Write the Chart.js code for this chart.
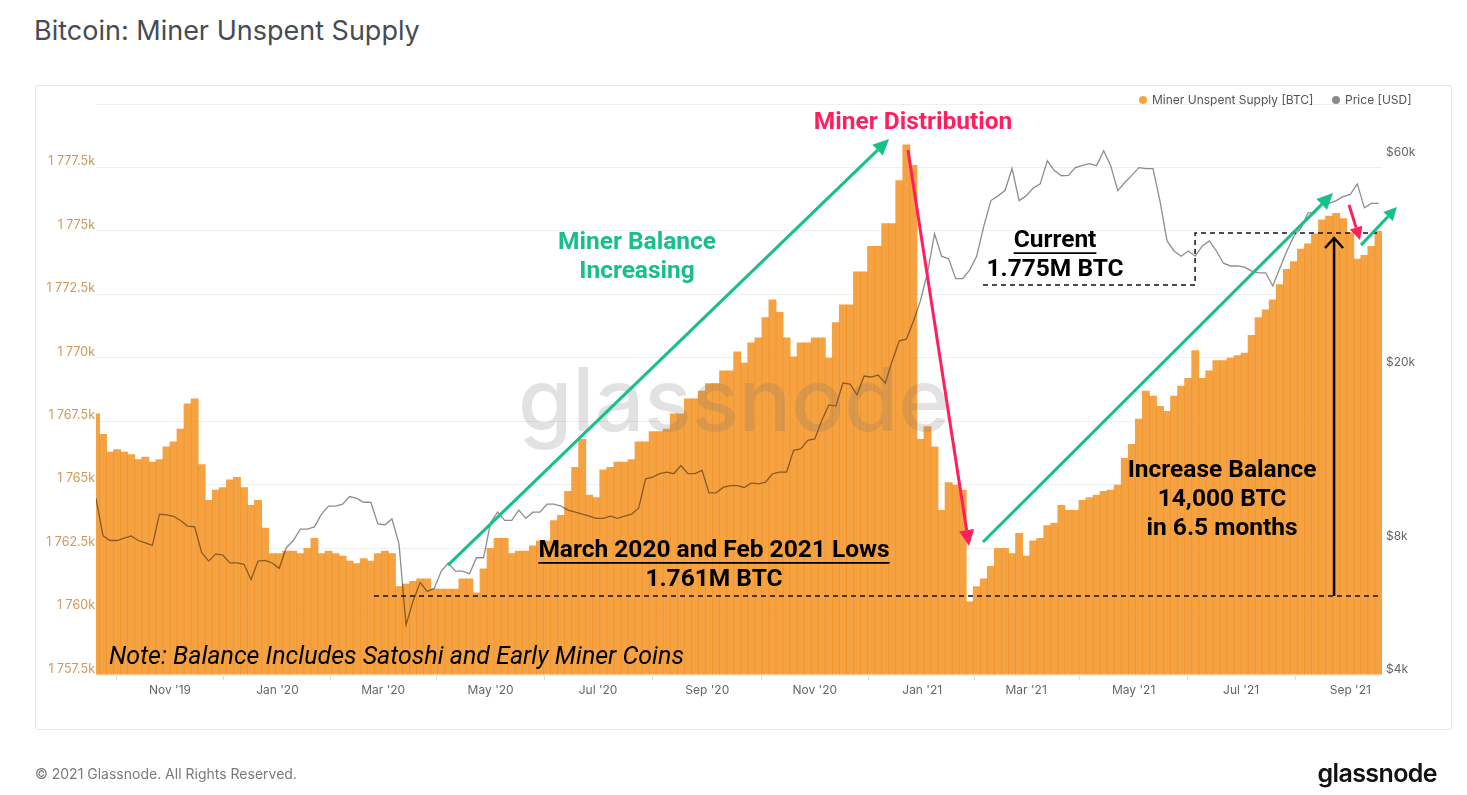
<!DOCTYPE html>
<html>
<head>
<meta charset="utf-8">
<script src="https://cdn.jsdelivr.net/npm/chart.js@4.4.1/dist/chart.umd.min.js"></script>
<style>
html,body{margin:0;padding:0;background:#fff;width:1467px;height:795px;overflow:hidden;font-family:Inter,"Noto Sans",sans-serif;}
#wrap{position:relative;width:1467px;height:795px;}
#c{position:absolute;left:0;top:0;}
.card{position:absolute;left:35px;top:85px;width:1417px;height:645px;border:1px solid #e7e7e7;border-radius:3px;box-sizing:border-box;}
.title{position:absolute;left:34px;top:14px;font-size:27px;line-height:34px;color:#464b55;white-space:nowrap;}
.legend{position:absolute;top:93px;left:1138px;font-size:12px;line-height:14px;color:#555;white-space:nowrap;}
.legend span.dot{position:absolute;top:3px;width:8px;height:8px;border-radius:50%;}
.legend span.t{position:absolute;top:0;}
.foot{position:absolute;left:35px;top:766px;font-size:14px;line-height:16px;color:#7a7a7a;white-space:nowrap;}
.logo{position:absolute;right:30px;top:757px;font-size:25px;line-height:32px;font-weight:600;color:#111;letter-spacing:-0.6px;}
</style>
</head>
<body>
<div id="wrap">
  <div class="card"></div>
  <div class="title">Bitcoin: Miner Unspent Supply</div>
  <canvas id="c" width="1467" height="795"></canvas>
  <div class="legend">
    <span class="dot" style="left:1px;background:#f6a340"></span><span class="t" style="left:14px">Miner Unspent Supply [BTC]</span>
    <span class="dot" style="left:194px;background:#8a8a8a"></span><span class="t" style="left:207px">Price [USD]</span>
  </div>
  <div class="foot">© 2021 Glassnode. All Rights Reserved.</div>
  <div class="logo">glassnode</div>
</div>
<script>
// ---- data (one value every 4 days, starting 2019-09-20) ----
const startDate = '2019-09-20';
const stepDays = 4;
// Miner unspent supply, thousands of BTC
const supply = [
1767.8,1767.0,1766.3,1766.4,1766.3,1766.2,1766.0,1766.1,1765.9,1766.0,
1766.5,1766.7,1767.2,1768.2,1768.4,1765.8,1764.4,1764.8,1764.9,1765.2,
1765.3,1764.9,1764.2,1764.4,1763.3,1762.3,1762.3,1762.4,1762.4,1762.3,
1762.5,1762.9,1762.3,1762.4,1762.3,1762.2,1762.0,1761.9,1762.1,1762.0,
1762.3,1762.4,1762.3,1761.0,1761.1,1761.2,1761.3,1761.3,1760.9,1760.9,
1760.9,1760.9,1761.3,1761.3,1760.75,1761.7,1762.5,1762.9,1762.9,1762.3,
1762.4,1762.4,1762.6,1762.8,1762.8,1763.6,1763.8,1764.75,1765.7,1766.8,
1764.6,1764.5,1765.6,1765.7,1765.9,1765.9,1766.0,1766.7,1766.7,1767.1,
1767.1,1767.2,1767.8,1767.8,1768.4,1768.4,1768.7,1769.0,1769.0,1769.5,
1769.5,1770.25,1769.8,1770.6,1770.8,1771.6,1772.3,1771.8,1770.8,1770.05,
1770.6,1770.6,1770.8,1770.8,1770.0,1771.4,1772.1,1772.1,1773.4,1773.4,
1774.4,1774.4,1775.3,1775.3,1777.0,1778.4,1777.6,1766.8,1767.3,1766.5,
1764.0,1765.1,1765.0,1764.8,1760.4,1761.0,1761.3,1761.8,1762.5,1762.5,
1762.3,1763.1,1762.2,1762.8,1762.9,1763.4,1763.5,1764.2,1764.0,1764.0,
1764.4,1764.5,1764.6,1764.75,1764.8,1765.0,1766.05,1766.6,1767.6,1768.7,
1768.5,1768.1,1767.9,1768.5,1768.9,1769.2,1770.3,1769.2,1769.5,1769.9,
1769.9,1770.0,1770.1,1770.2,1770.9,1771.6,1771.9,1772.3,1772.9,1773.5,
1773.8,1774.3,1774.5,1774.9,1775.45,1775.6,1775.7,1775.5,1774.95,1773.9,
1774.05,1774.4,1775.0
];
// BTC price, thousands of USD
const price = [
10.1,8.3,8.1,8.1,8.2,8.3,8.1,8.0,7.9,9.3,
9.27,9.2,9.0,8.74,8.7,7.6,7.27,7.55,7.5,7.2,
7.2,7.15,6.6,7.27,7.3,7.2,7.0,7.8,8.1,8.6,
8.6,8.7,9.3,9.7,9.7,9.8,10.2,10.1,9.9,9.9,
8.84,8.8,9.07,7.96,5.2,5.9,6.5,6.2,6.3,6.9,
7.2,6.9,6.9,6.8,7.4,7.4,8.9,9.4,9.0,9.0,
9.5,9.1,9.4,9.4,9.8,9.8,9.7,9.5,9.4,9.3,
9.2,9.1,9.1,9.2,9.1,9.2,9.3,9.6,11.2,11.3,
11.5,11.6,11.5,12.0,11.5,11.5,11.7,10.4,10.4,10.7,
10.8,10.8,10.7,10.96,10.9,11.0,11.5,11.6,11.6,13.0,
13.1,13.7,13.8,15.2,16.5,16.4,18.5,18.4,17.4,19.2,
19.1,19.3,18.5,20.8,23.1,23.3,25.6,28.5,33.0,40.5,
36.0,35.5,32.0,32.0,33.5,36.1,42.2,48.2,49.4,50.8,
57.0,48.2,49.4,51.5,52.6,59.4,56.4,54.9,55.0,57.3,
58.0,58.5,57.9,62.6,57.9,50.8,53.0,55.0,57.3,57.0,
57.0,48.0,39.0,37.0,36.0,37.0,36.0,38.0,39.0,37.0,
34.7,34.2,34.2,34.0,33.3,33.0,33.0,30.8,33.8,37.0,
40.0,41.7,45.2,45.2,47.5,47.5,48.2,49.2,49.8,52.6,
46.4,47.5,47.5
];
// axis ticks
const xTickDates = ['2019-11-01','2020-01-01','2020-03-01','2020-05-01','2020-07-01','2020-09-01','2020-11-01','2021-01-01','2021-03-01','2021-05-01','2021-07-01','2021-09-01'];
const xTickLabels = ["Nov '19","Jan '20","Mar '20","May '20","Jul '20","Sep '20","Nov '20","Jan '21","Mar '21","May '21","Jul '21","Sep '21"];
const supplyTicks = [1757.5,1760,1762.5,1765,1767.5,1770,1772.5,1775,1777.5,1780];
const priceTicks = [4000,8000,20000,60000];
const supplyMin = 1757.5, supplyMax = 1780;
const priceMin = 4000, priceMax = 80000;
const dayMax = 730;

// annotation definitions in data units: [day, kBTC]
const lowLevel = 1760.61;      // 1.761M
const currentLevel = 1774.92;  // 1.775M
const greenArrows = [[199.8,1761.83,450.2,1778.62],[503.5,1762.74,702.2,1776.49],[718.1,1774.44,738.5,1775.94]];
const pinkArrows = [[460.9,1778.19,495.6,1762.58],[711.3,1776.02,717.5,1774.64]];

function dayOf(s){const a=Date.UTC(...startDate.split('-').map((v,i)=>i===1?v-1:+v));const b=Date.UTC(...s.split('-').map((v,i)=>i===1?v-1:+v));return Math.round((b-a)/86400000);}
const xTickDays = xTickDates.map(dayOf);

function fmtK(v){
  let s = (Math.round(v*10)/10).toString();
  const [ip,fp] = s.split('.');
  const withSp = ip.replace(/\B(?=(\d{3})+(?!\d))/g,' ');
  return withSp + (fp?'.'+fp:'') + 'k';
}

const GREEN = '#17c08b', PINK = '#ff1f5e';

function arrow(ctx,x1,y1,x2,y2,color,w,hl,hw){
  const a=Math.atan2(y2-y1,x2-x1);
  const bx=x2-hl*Math.cos(a), by=y2-hl*Math.sin(a);
  ctx.strokeStyle=color; ctx.lineWidth=w; ctx.lineCap='butt';
  ctx.beginPath(); ctx.moveTo(x1,y1); ctx.lineTo(bx,by); ctx.stroke();
  ctx.fillStyle=color; ctx.beginPath(); ctx.moveTo(x2,y2);
  ctx.lineTo(bx+hw/2*Math.sin(a), by-hw/2*Math.cos(a));
  ctx.lineTo(bx-hw/2*Math.sin(a), by+hw/2*Math.cos(a));
  ctx.closePath(); ctx.fill();
}

const annotPlugin = {
  id:'annot',
  beforeDatasetDraw(chart,args){ if(args.meta.type==='line'){chart.ctx.save();chart.ctx.globalCompositeOperation='multiply';} },
  afterDatasetDraw(chart,args){ if(args.meta.type==='line'){chart.ctx.restore();} },
  afterDatasetsDraw(chart){
    const ctx=chart.ctx, xs=chart.scales.x, ys=chart.scales.y, ca=chart.chartArea;
    const px=d=>xs.getPixelForValue(d), py=v=>ys.getPixelForValue(v);
    ctx.save();
    // watermark
    ctx.font='500 100px Inter';
    const wm='glassnode'; const mw=ctx.measureText(wm).width; const fs=100*432/mw;
    ctx.font='500 '+fs.toFixed(1)+'px Inter';
    ctx.fillStyle='rgba(110,110,110,0.2)'; ctx.textAlign='center'; ctx.textBaseline='alphabetic';
    ctx.fillText(wm,(ca.left+ca.right)/2-5,(ca.top+ca.bottom)/2+41);
    // dashed lines
    ctx.strokeStyle='#111'; ctx.lineWidth=1.5; ctx.setLineDash([5,4]);
    ctx.beginPath(); ctx.moveTo(px(157.8),py(lowLevel)); ctx.lineTo(px(728.9),py(lowLevel)); ctx.stroke();
    ctx.beginPath(); ctx.moveTo(px(503.5),py(1772.87)); ctx.lineTo(px(623.9),py(1772.87)); ctx.lineTo(px(623.9),py(currentLevel)); ctx.lineTo(px(728.9),py(currentLevel)); ctx.stroke();
    ctx.setLineDash([]);
    // black vertical arrow
    const bx=px(702.8), by1=py(lowLevel), by2=py(1774.72);
    ctx.strokeStyle='#000'; ctx.lineWidth=2.5;
    ctx.beginPath(); ctx.moveTo(bx,by1); ctx.lineTo(bx,by2); ctx.stroke();
    ctx.beginPath(); ctx.moveTo(bx-9,by2+10); ctx.lineTo(bx,by2); ctx.lineTo(bx+9,by2+10); ctx.stroke();
    // colored arrows
    greenArrows.forEach((a,i)=>arrow(ctx,px(a[0]),py(a[1]),px(a[2]),py(a[3]),GREEN,3,i===2?13:16,i===2?13:15));
    pinkArrows.forEach((a,i)=>arrow(ctx,px(a[0]),py(a[1]),px(a[2]),py(a[3]),PINK,3,i===1?13:16,i===1?13:15));
    // texts
    function txt(s,d,v,color,font,align,ul){
      ctx.font=font; ctx.fillStyle=color; ctx.textAlign=align||'center'; ctx.textBaseline='middle';
      const x=px(d), y=py(v); ctx.fillText(s,x,y);
      if(ul){const w=ctx.measureText(s).width; const x0=align==='left'?x:x-w/2;
        ctx.strokeStyle=color; ctx.lineWidth=1.8; ctx.beginPath(); ctx.moveTo(x0,y+12); ctx.lineTo(x0+w,y+12); ctx.stroke();}
    }
    const B='bold 24.5px Roboto';
    txt('Miner Distribution',463.8,1779.25,PINK,B);
    txt('Miner Balance',307.1,1774.52,GREEN,B);
    txt('Increasing',307.1,1773.38,GREEN,B);
    txt('Current',544.4,1774.6,'#000',B,'center',true);
    txt('1.775M BTC',544.4,1773.46,'#000',B);
    txt('March 2020 and Feb 2021 Lows',350.8,1762.39,'#000',B,'center',true);
    txt('1.761M BTC',350.8,1761.24,'#000',B);
    txt('Increase Balance',639.2,1765.54,'#000',B);
    txt('14,000 BTC',639.2,1764.4,'#000',B);
    txt('in 6.5 months',639.2,1763.25,'#000',B);
    txt('Note: Balance Includes Satoshi and Early Miner Coins',7.4,1758.17,'#000','italic 25px Roboto','left');
    ctx.restore();
  }
};

Chart.defaults.font.family='Inter';
new Chart(document.getElementById('c'),{
  type:'bar',
  data:{datasets:[
    {type:'line',label:'Price [USD]',yAxisID:'y1',order:0,
     data:price.map((v,i)=>({x:i*stepDays,y:v*1000})),
     borderColor:'#8d8d8d',borderWidth:1.3,pointRadius:0,tension:0,fill:false},
    {type:'bar',label:'Miner Unspent Supply [BTC]',yAxisID:'y',order:1,
     data:supply.map((v,i)=>({x:i*stepDays,y:v})),
     backgroundColor:'rgba(243,146,34,0.85)',borderWidth:0,base:supplyMin,
     barPercentage:1.12,categoryPercentage:1}
  ]},
  options:{
    responsive:false,animation:false,events:[],
    layout:{padding:{top:104,left:0,right:0,bottom:0}},
    plugins:{legend:{display:false},tooltip:{enabled:false}},
    scales:{
      x:{type:'linear',min:0,max:dayMax,offset:false,
        afterBuildTicks(s){s.ticks=xTickDays.map(v=>({value:v}));},
        afterFit(s){s.height=120;},
        ticks:{autoSkip:false,maxRotation:0,padding:3,color:'#666',font:{size:12},
          callback:(v)=>{const k=xTickDays.indexOf(v);return k>=0?xTickLabels[k]:'';}},
        grid:{drawOnChartArea:false,drawTicks:true,tickLength:5,color:'#dddddd'},
        border:{display:false}},
      y:{type:'linear',position:'left',min:supplyMin,max:supplyMax,
        afterBuildTicks(s){s.ticks=supplyTicks.map(v=>({value:v}));},
        afterFit(s){s.width=96;},
        ticks:{padding:1,labelOffset:-6,color:'#d0995b',font:{size:12.5},
          callback:(v)=>v===supplyMax?'':fmtK(v)},
        grid:{color:'#efefef',drawTicks:false},border:{display:false}},
      y1:{type:'logarithmic',position:'right',min:priceMin,max:priceMax,
        afterBuildTicks(s){s.ticks=priceTicks.map(v=>({value:v}));},
        afterFit(s){s.width=85;},
        ticks:{padding:4,labelOffset:-6,color:'#666',font:{size:12},
          callback:(v)=>'$'+(v/1000)+'k'},
        grid:{drawOnChartArea:false,drawTicks:false},border:{display:false}}
    }
  },
  plugins:[annotPlugin]
});
</script>
</body>
</html>
